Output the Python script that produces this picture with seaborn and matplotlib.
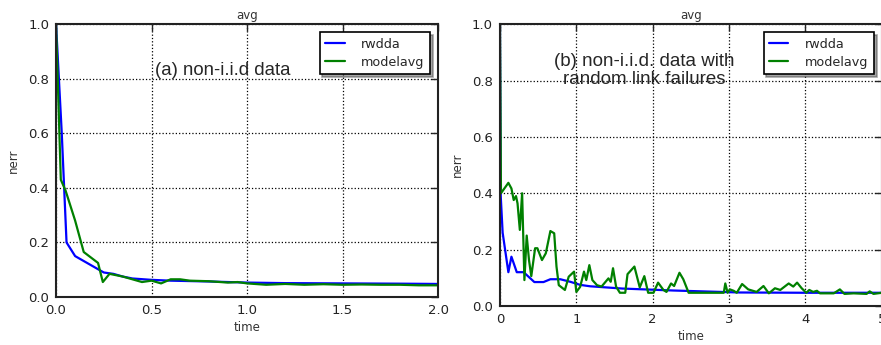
import matplotlib
matplotlib.use("Agg")
import matplotlib.pyplot as plt
import numpy as np
import pandas as pd
import seaborn as sns

# (a) non-i.i.d data
t_a_rwdda = [0.0, 0.03, 0.055, 0.1, 0.15, 0.2, 0.25, 0.3, 0.35, 0.4, 0.5, 0.6,
             0.8, 1.0, 1.2, 1.5, 1.8, 2.0]
nerr_a_rwdda = [1.0, 0.6, 0.2, 0.15, 0.13, 0.11, 0.09, 0.085, 0.075, 0.068, 0.063, 0.06,
                0.057, 0.053, 0.051, 0.05, 0.049, 0.048]
t_a_modelavg = [0.0, 0.025, 0.05, 0.1, 0.145, 0.22, 0.245, 0.28, 0.35, 0.45, 0.5, 0.55,
                0.6, 0.65, 0.7, 0.8, 0.9, 0.95, 1.0, 1.1, 1.2, 1.3, 1.4, 1.5, 1.6, 1.7,
                1.8, 1.9, 2.0]
nerr_a_modelavg = [1.0, 0.43, 0.39, 0.28, 0.165, 0.125, 0.055, 0.085, 0.075, 0.055, 0.06, 0.05,
                   0.065, 0.065, 0.06, 0.058, 0.053, 0.055, 0.05, 0.045, 0.048, 0.045, 0.047,
                   0.045, 0.046, 0.045, 0.045, 0.043, 0.043]

# (b) non-i.i.d. data with random link failures
t_b_rwdda = [0.0, 0.01, 0.035, 0.11, 0.15, 0.22, 0.31, 0.39, 0.45, 0.57, 0.66, 0.79,
             0.92, 1.05, 1.18, 1.6, 2.27, 3.14, 4.0, 5.0]
nerr_b_rwdda = [1.0, 0.39, 0.26, 0.12, 0.175, 0.12, 0.12, 0.10, 0.085, 0.085, 0.095, 0.095,
                0.086, 0.075, 0.07, 0.062, 0.055, 0.048, 0.047, 0.047]
t_b_modelavg = [0.0, 0.013, 0.11, 0.15, 0.18, 0.21, 0.23, 0.26, 0.29, 0.32, 0.35, 0.38,
                0.41, 0.46, 0.49, 0.55, 0.60, 0.66, 0.71, 0.74, 0.77, 0.85, 0.90, 0.97,
                1.0, 1.05, 1.10, 1.13, 1.17, 1.21, 1.27, 1.33, 1.42, 1.45, 1.48, 1.52,
                1.57, 1.64, 1.67, 1.76, 1.83, 1.89, 1.94, 2.01, 2.07, 2.14, 2.18, 2.24,
                2.28, 2.35, 2.40, 2.47, 2.71, 2.93, 2.95, 2.98, 3.01, 3.06, 3.10, 3.17,
                3.25, 3.36, 3.45, 3.52, 3.60, 3.67, 3.78, 3.84, 3.89, 3.95, 4.01, 4.05,
                4.10, 4.15, 4.19, 4.37, 4.45, 4.51, 4.63, 4.80, 4.84, 4.89, 5.0]
nerr_b_modelavg = [1.0, 0.40, 0.437, 0.417, 0.376, 0.39, 0.364, 0.27, 0.40, 0.092, 0.25, 0.163,
                   0.106, 0.205, 0.205, 0.163, 0.187, 0.266, 0.258, 0.14, 0.074, 0.057, 0.104,
                   0.122, 0.05, 0.068, 0.122, 0.092, 0.145, 0.092, 0.074, 0.069, 0.098, 0.086,
                   0.134, 0.069, 0.047, 0.047, 0.113, 0.14, 0.066, 0.106, 0.047, 0.047, 0.083,
                   0.057, 0.05, 0.08, 0.071, 0.118, 0.095, 0.047, 0.047, 0.047, 0.08, 0.047,
                   0.059, 0.054, 0.047, 0.078, 0.059, 0.05, 0.071, 0.045, 0.063, 0.057, 0.08,
                   0.069, 0.083, 0.063, 0.047, 0.057, 0.05, 0.054, 0.045, 0.045, 0.059, 0.043,
                   0.045, 0.043, 0.052, 0.043, 0.047]

sns.set_style("white")
plt.rcParams['font.family'] = ['DejaVu Sans']

fig = plt.figure(figsize=(8.81, 3.45), dpi=100)
ax_a = fig.add_axes([0.0636, 0.139, 0.4336, 0.791])
ax_b = fig.add_axes([0.5675, 0.113, 0.4335, 0.817])

panels = [
    (ax_a, t_a_rwdda, nerr_a_rwdda, t_a_modelavg, nerr_a_modelavg, (0, 2.0),
     np.arange(0, 2.01, 0.5), "{:.1f}"),
    (ax_b, t_b_rwdda, nerr_b_rwdda, t_b_modelavg, nerr_b_modelavg, (0, 5),
     np.arange(0, 6, 1), "{:.0f}"),
]

for ax, tr, yr, tm, ym, xlim, xticks, fmt in panels:
    df = pd.concat([
        pd.DataFrame({"time": tr, "nerr": yr, "series": "rwdda"}),
        pd.DataFrame({"time": tm, "nerr": ym, "series": "modelavg"}),
    ])
    sns.lineplot(data=df, x="time", y="nerr", hue="series", estimator=None, sort=False,
                 palette={"rwdda": "#0000ff", "modelavg": "#008000"}, linewidth=1.6, ax=ax)
    ax.set_xlim(*xlim)
    ax.set_ylim(0, 1.0)
    ax.set_xticks(xticks)
    ax.set_xticklabels([fmt.format(v) for v in xticks])
    ax.set_yticks(np.arange(0, 1.01, 0.2))
    ax.set_yticklabels(["{:.1f}".format(v) for v in np.arange(0, 1.01, 0.2)])
    ax.grid(True, color="black", linestyle=":", linewidth=0.9)
    ax.tick_params(direction="in", length=5, width=1, top=True, right=True,
                   labelsize=9.5, labelcolor="#222222", pad=5)
    for s in ax.spines.values():
        s.set_color("#222222")
        s.set_linewidth(1.5)
    ax.set_title("avg", fontsize=8.5, color="#333333", pad=4)
    ax.set_xlabel("time", fontsize=8.5, color="#333333", labelpad=3)
    ax.set_ylabel("nerr", fontsize=8.5, color="#333333", labelpad=6)
    leg = ax.legend(loc="upper right", fontsize=9.2, frameon=True, fancybox=False,
                    shadow=True, edgecolor="black", handlelength=1.5, borderpad=0.45,
                    labelspacing=0.4, handletextpad=1.3, borderaxespad=0.6)
    leg.get_frame().set_linewidth(1.2)
    for line in leg.get_lines():
        line.set_linewidth(1.6)

ax_a.text(0.437, 0.83, "(a) non-i.i.d data", transform=ax_a.transAxes, ha="center",
          va="center", fontsize=13.4, family=["Liberation Sans", "DejaVu Sans"])
ax_b.text(0.378, 0.835, "(b) non-i.i.d. data with\nrandom link failures",
          transform=ax_b.transAxes, ha="center", va="center", fontsize=13.5,
          linespacing=1.1, family=["Liberation Sans", "DejaVu Sans"])

fig.savefig("out.png", dpi=100, facecolor="white")
